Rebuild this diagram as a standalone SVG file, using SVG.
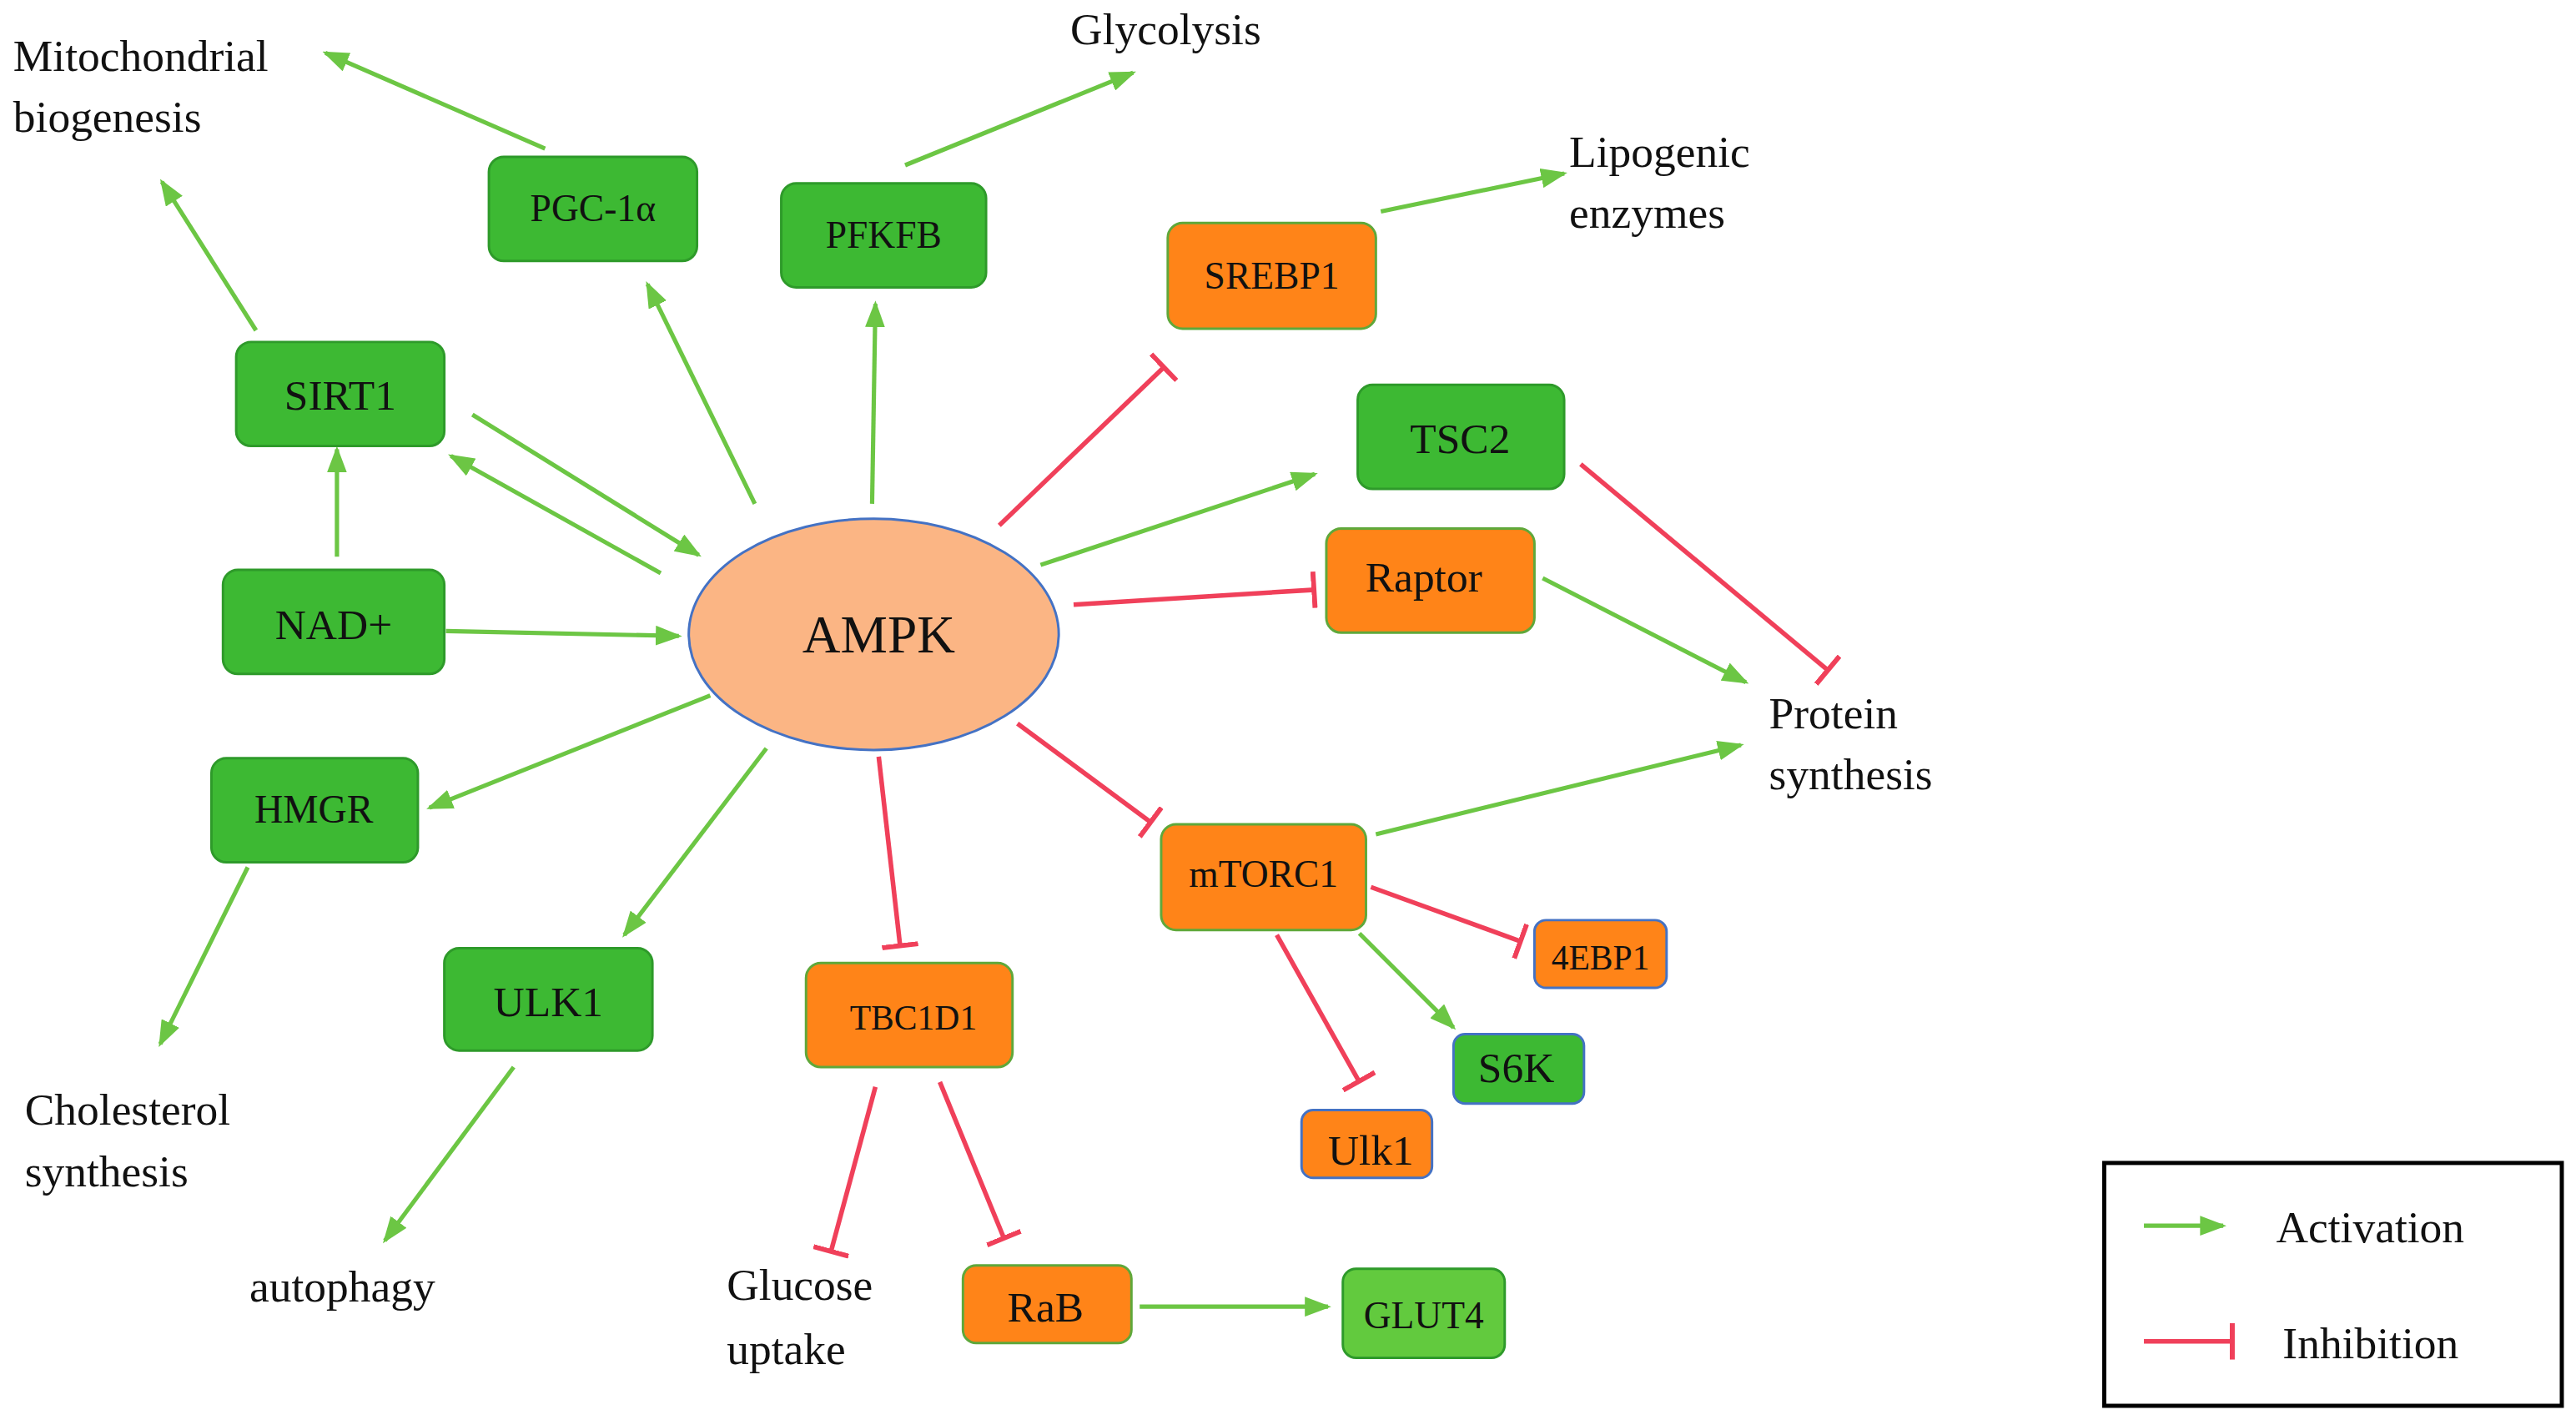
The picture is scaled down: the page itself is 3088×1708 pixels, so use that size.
<svg xmlns="http://www.w3.org/2000/svg" width="3088" height="1708" viewBox="0 0 3088 1708">
<style>
text{font-family:"Liberation Serif","Times New Roman",serif;fill:#111}
.g{fill:#3DB933;stroke:#2E9A2A;stroke-width:1.5}
.g2{fill:#62CA3E;stroke:#2E9A2A;stroke-width:1.5}
.o{fill:#FF8418;stroke:#5FA83A;stroke-width:1.5}
.ob{fill:#FF8418;stroke:#4472C4;stroke-width:1.5}
.gb{fill:#3DB933;stroke:#4472C4;stroke-width:1.5}
.a{stroke:#6CC644;stroke-width:2.6;fill:none;marker-end:url(#ar)}
.i{stroke:#F0405A;stroke-width:2.8;fill:none;marker-end:url(#tee)}
.lbl{font-size:26px;text-anchor:middle}
.t{font-size:27px}
</style>
<defs>
<marker id="ar" markerUnits="userSpaceOnUse" markerWidth="16" markerHeight="12" refX="14" refY="6" orient="auto"><path d="M0,0L16,6L0,12z" fill="#6CC644"/></marker>
<marker id="tee" markerUnits="userSpaceOnUse" markerWidth="4" markerHeight="22" refX="2" refY="11" orient="auto"><rect x="0" y="0" width="3" height="22" fill="#F0405A"/></marker>
</defs>
<rect width="3088" height="1708" fill="#fff"/>
<g transform="scale(1.98)">
<g id="connectors">
<line class="a" x1="330" y1="90" x2="197" y2="32"/>
<line class="a" x1="548" y1="100" x2="686" y2="44"/>
<line class="a" x1="155" y1="200" x2="98" y2="110"/>
<line class="a" x1="457" y1="305" x2="392" y2="172"/>
<line class="a" x1="528" y1="305" x2="530" y2="184"/>
<line class="i" x1="605" y1="318" x2="705" y2="222"/>
<line class="a" x1="286" y1="251" x2="423" y2="336"/>
<line class="a" x1="400" y1="347" x2="273" y2="276"/>
<line class="a" x1="204" y1="337" x2="204" y2="272"/>
<line class="a" x1="270" y1="382" x2="411" y2="385"/>
<line class="a" x1="630" y1="342" x2="796" y2="287"/>
<line class="i" x1="650" y1="366" x2="796" y2="357"/>
<line class="a" x1="836" y1="128" x2="947" y2="105"/>
<line class="i" x1="957" y1="281" x2="1107" y2="406"/>
<line class="a" x1="934" y1="350" x2="1057" y2="413"/>
<line class="a" x1="833" y1="505" x2="1054" y2="451"/>
<line class="a" x1="430" y1="421" x2="260" y2="489"/>
<line class="a" x1="150" y1="525" x2="97" y2="632"/>
<line class="a" x1="464" y1="453" x2="378" y2="566"/>
<line class="a" x1="311" y1="646" x2="233" y2="751"/>
<line class="i" x1="532" y1="458" x2="545" y2="573"/>
<line class="i" x1="616" y1="438" x2="697" y2="498"/>
<line class="i" x1="830" y1="537" x2="921" y2="570"/>
<line class="a" x1="823" y1="565" x2="880" y2="622"/>
<line class="i" x1="773" y1="566" x2="823" y2="655"/>
<line class="i" x1="530" y1="658" x2="503" y2="758"/>
<line class="i" x1="569" y1="655" x2="608" y2="750"/>
<line class="a" x1="690" y1="791" x2="804" y2="791"/>
</g>
<g id="AMPK"><ellipse cx="529" cy="384" rx="112" ry="70" fill="#FBB584" stroke="#4472C4" stroke-width="1.5"/><text class="lbl" x="532" y="395" style="font-size:32px">AMPK</text></g>
<g id="PGC1a"><rect class="g" x="296" y="95" width="126" height="63" rx="9"/><text class="lbl" x="359" y="134" style="font-size:23px">PGC-1α</text></g>
<g id="PFKFB"><rect class="g" x="473" y="111" width="124" height="63" rx="9"/><text class="lbl" x="535" y="150" style="font-size:23px">PFKFB</text></g>
<g id="SREBP1"><rect class="o" x="707" y="135" width="126" height="64" rx="9"/><text class="lbl" x="770" y="175" style="font-size:23px">SREBP1</text></g>
<g id="SIRT1"><rect class="g" x="143" y="207" width="126" height="63" rx="9"/><text class="lbl" x="206" y="248">SIRT1</text></g>
<g id="NAD"><rect class="g" x="135" y="345" width="134" height="63" rx="9"/><text class="lbl" x="202" y="387">NAD+</text></g>
<g id="TSC2"><rect class="g" x="822" y="233" width="125" height="63" rx="9"/><text class="lbl" x="884" y="274">TSC2</text></g>
<g id="Raptor"><rect class="o" x="803" y="320" width="126" height="63" rx="9"/><text class="lbl" x="862" y="358">Raptor</text></g>
<g id="HMGR"><rect class="g" x="128" y="459" width="125" height="63" rx="9"/><text class="lbl" x="190" y="498" style="font-size:24px">HMGR</text></g>
<g id="ULK1"><rect class="g" x="269" y="574" width="126" height="62" rx="9"/><text class="lbl" x="332" y="615">ULK1</text></g>
<g id="TBC1D1"><rect class="o" x="488" y="583" width="125" height="63" rx="9"/><text class="lbl" x="553" y="623" style="font-size:21px">TBC1D1</text></g>
<g id="mTORC1"><rect class="o" x="703" y="499" width="124" height="64" rx="9"/><text class="lbl" x="765" y="537" style="font-size:23px">mTORC1</text></g>
<g id="4EBP1"><rect class="ob" x="929" y="557" width="80" height="41" rx="7"/><text class="lbl" x="969" y="587" style="font-size:21px">4EBP1</text></g>
<g id="S6K"><rect class="gb" x="880" y="626" width="79" height="42" rx="7"/><text class="lbl" x="918" y="655">S6K</text></g>
<g id="Ulk1"><rect class="ob" x="788" y="672" width="79" height="41" rx="7"/><text class="lbl" x="830" y="705">Ulk1</text></g>
<g id="RaB"><rect class="o" x="583" y="766" width="102" height="47" rx="8"/><text class="lbl" x="633" y="800">RaB</text></g>
<g id="GLUT4"><rect class="g2" x="813" y="768" width="98" height="54" rx="8"/><text class="lbl" x="862" y="804" style="font-size:23px">GLUT4</text></g>
<g id="labels">
<text class="t" x="8" y="43">Mitochondrial</text><text class="t" x="8" y="80">biogenesis</text>
<text class="t" x="648" y="27">Glycolysis</text>
<text class="t" x="950" y="101">Lipogenic</text><text class="t" x="950" y="138">enzymes</text>
<text class="t" x="1071" y="441">Protein</text><text class="t" x="1071" y="478">synthesis</text>
<text class="t" x="15" y="681">Cholesterol</text><text class="t" x="15" y="718">synthesis</text>
<text class="t" x="151" y="788">autophagy</text>
<text class="t" x="440" y="787">Glucose</text><text class="t" x="440" y="826">uptake</text>
</g>
<g id="legend">
<rect x="1274" y="704" width="277" height="147" fill="none" stroke="#000" stroke-width="2.5"/>
<line class="a" x1="1298" y1="742" x2="1346" y2="742"/>
<line class="i" x1="1298" y1="812" x2="1352" y2="812"/>
<text class="t" x="1378" y="752">Activation</text>
<text class="t" x="1382" y="822">Inhibition</text>
</g>
</g>
</svg>
